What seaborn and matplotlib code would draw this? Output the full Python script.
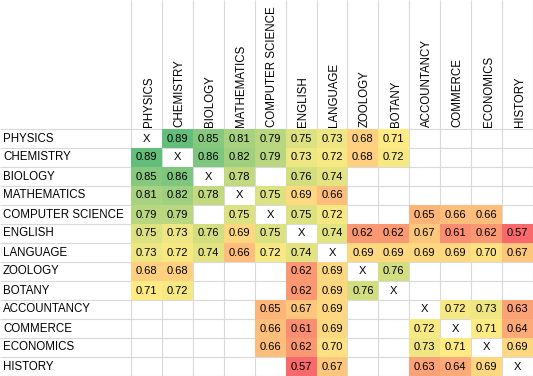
import numpy as np
import pandas as pd
import matplotlib.pyplot as plt
import seaborn as sns
from matplotlib.colors import LinearSegmentedColormap

subjects = ["PHYSICS", "CHEMISTRY", "BIOLOGY", "MATHEMATICS", "COMPUTER SCIENCE",
            "ENGLISH", "LANGUAGE", "ZOOLOGY", "BOTANY", "ACCOUNTANCY",
            "COMMERCE", "ECONOMICS", "HISTORY"]

n = np.nan
# correlation table, diagonal = None (shown as X), blanks = nan
physics     = [None, .89, .85, .81, .79, .75, .73, .68, .71, n, n, n, n]
chemistry   = [.89, None, .86, .82, .79, .73, .72, .68, .72, n, n, n, n]
biology     = [.85, .86, None, .78, n, .76, .74, n, n, n, n, n, n]
mathematics = [.81, .82, .78, None, .75, .69, .66, n, n, n, n, n, n]
comp_sci    = [.79, .79, n, .75, None, .75, .72, n, n, .65, .66, .66, n]
english     = [.75, .73, .76, .69, .75, None, .74, .62, .62, .67, .61, .62, .57]
language    = [.73, .72, .74, .66, .72, .74, None, .69, .69, .69, .69, .70, .67]
zoology     = [.68, .68, n, n, n, .62, .69, None, .76, n, n, n, n]
botany      = [.71, .72, n, n, n, .62, .69, .76, None, n, n, n, n]
accountancy = [n, n, n, n, .65, .67, .69, n, n, None, .72, .73, .63]
commerce    = [n, n, n, n, .66, .61, .69, n, n, .72, None, .71, .64]
economics   = [n, n, n, n, .66, .62, .70, n, n, .73, .71, None, .69]
history     = [n, n, n, n, n, .57, .67, n, n, .63, .64, .69, None]

rows = [physics, chemistry, biology, mathematics, comp_sci, english, language,
        zoology, botany, accountancy, commerce, economics, history]

vals = np.array([[np.nan if v is None else v for v in r] for r in rows], dtype=float)
df = pd.DataFrame(vals, index=subjects, columns=subjects)

annot = np.array([["" if (v is None or np.isnan(v)) else f"{v:.2f}" for v in r] for r in rows])

# Excel style 3-colour scale (red - yellow - green), midpoint at the median
vmin, vmax = np.nanmin(vals), np.nanmax(vals)
mid = (np.nanmedian(vals) - vmin) / (vmax - vmin)
cmap = LinearSegmentedColormap.from_list(
    "excel", [(0, "#F8696B"), (mid, "#FFEB84"), (1, "#63BE7B")])

plt.rcParams["font.family"] = ["Liberation Sans", "DejaVu Sans"]

W, H = 533, 376
left_w, top_h = 131, 129
fig = plt.figure(figsize=(W / 100, H / 100), dpi=100)
ax = fig.add_axes([left_w / W, 0, (W - left_w) / W, (H - top_h) / H])

sns.heatmap(df, ax=ax, cmap=cmap, vmin=vmin, vmax=vmax, cbar=False,
            annot=annot, fmt="", annot_kws={"color": "black", "fontsize": 8})

ncol = len(subjects)
col_w = (W - left_w) / ncol
row_h = (H - top_h) / ncol

# sheet gridlines, behind the filled cells
grid = "#D9D9D9"
for i in range(ncol + 1):
    ax.hlines(i, -left_w / col_w, ncol, color=grid, lw=0.8, zorder=0.5, clip_on=False)
    ax.vlines(i, -top_h / row_h, ncol, color=grid, lw=0.8, zorder=0.5, clip_on=False)

# diagonal marks
for i in range(ncol):
    ax.text(i + 0.5, i + 0.5, "X", ha="center", va="center", fontsize=8, color="black")

ax.set_xticks([])
ax.set_yticks([])
ax.set_xlabel("")
ax.set_ylabel("")

for i, s in enumerate(subjects):
    ax.text(-(left_w - 3) / (W - left_w), i + 0.5, s, transform=ax.get_yaxis_transform(),
            ha="left", va="center", fontsize=8.3)
    ax.text(i + 0.57, 1 + 2 / (H - top_h), s, transform=ax.get_xaxis_transform(),
            rotation=90, ha="center", va="bottom", fontsize=8.3)

fig.savefig("out.png", dpi=100)
